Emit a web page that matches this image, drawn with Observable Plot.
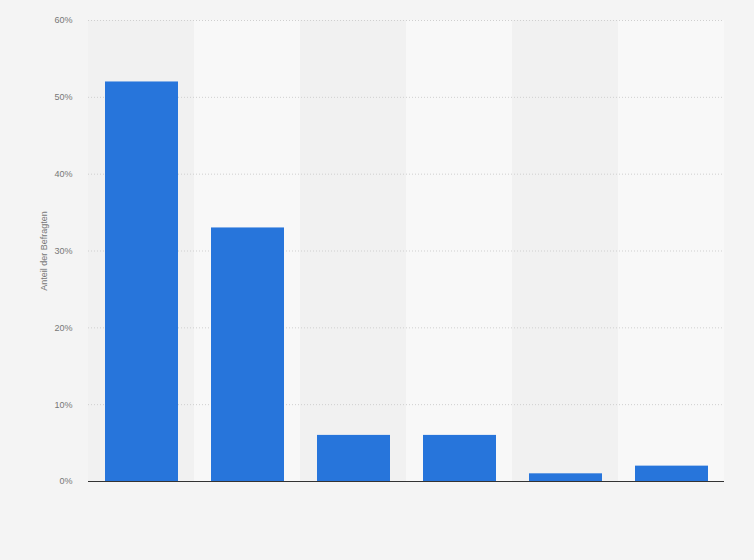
<!DOCTYPE html>
<html>
<head>
<meta charset="utf-8">
<script src="https://cdn.jsdelivr.net/npm/d3@7"></script>
<script src="https://cdn.jsdelivr.net/npm/@observablehq/plot@0.6"></script>
<style>
  html, body { margin: 0; padding: 0; background: #f4f4f4; }
  #chart { width: 754px; height: 560px; }
</style>
</head>
<body>
<div id="chart"></div>
<script>
const categories = ["Kategorie 1", "Kategorie 2", "Kategorie 3", "Kategorie 4", "Kategorie 5", "Kategorie 6"];
const values = [52, 33, 6, 6, 1, 2];
const yTicks = [0, 10, 20, 30, 40, 50, 60];
const bandColors = ["#f1f1f1", "#f8f8f8"];

const data = categories.map((c, i) => ({category: c, value: values[i], band: bandColors[i % 2]}));

const chart = Plot.plot({
  width: 754,
  height: 560,
  marginLeft: 88,
  marginRight: 30,
  marginTop: 20,
  marginBottom: 79,
  style: {background: "transparent", fontFamily: "Arial, 'Liberation Sans', sans-serif", fontSize: "9px", color: "#777"},
  x: {domain: categories, paddingInner: 0, paddingOuter: 0},
  y: {domain: [0, 60]},
  marks: [
    Plot.barY(data, {x: "category", y1: 0, y2: 60, fill: "band"}),
    Plot.gridY(yTicks.filter(d => d > 0), {stroke: "#cfcfcf", strokeOpacity: 1, strokeDasharray: "1,2"}),
    Plot.barY(data, {x: "category", y: "value", fill: "#2775db", insetLeft: 17, insetRight: 16}),
    Plot.ruleY([0], {stroke: "#333", strokeWidth: 1}),
    Plot.axisX({ticks: [], label: null, tickSize: 0}),
    Plot.axisY({ticks: yTicks, tickSize: 0, tickPadding: 16, tickFormat: d => d + "%", fill: "#777",
      label: "Anteil der Befragten", labelAnchor: "center", labelOffset: 48, labelArrow: "none"})
  ]
});
document.getElementById("chart").appendChild(chart);
</script>
</body>
</html>
